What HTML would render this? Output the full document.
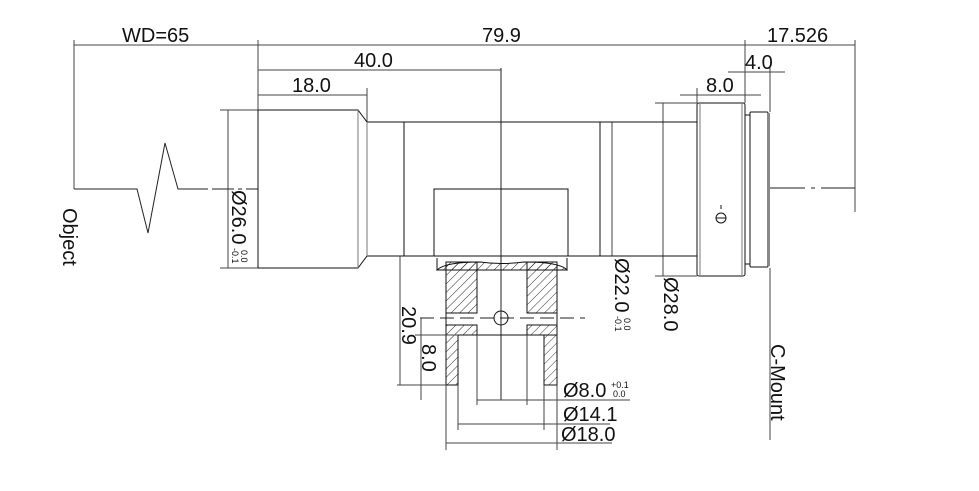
<!DOCTYPE html>
<html><head><style>html,body{margin:0;padding:0;background:#fff}svg{display:block}</style></head><body>
<svg width="979" height="491" viewBox="0 0 979 491" xmlns="http://www.w3.org/2000/svg" font-family="Liberation Sans, DejaVu Sans, sans-serif" fill="none" stroke="#000" stroke-width="1">
<defs>
<pattern id="h" width="6" height="6" patternUnits="userSpaceOnUse" patternTransform="rotate(45)"><line x1="0" y1="0" x2="0" y2="6" stroke="#000" stroke-width="0.8"/></pattern>
</defs>
<g stroke="#444">
<line x1="74" y1="45" x2="855" y2="45"/>
<line x1="74" y1="40" x2="74" y2="189"/>
<line x1="258" y1="40" x2="258" y2="110"/>
<line x1="745" y1="40" x2="745" y2="103"/>
<line x1="855" y1="40" x2="855" y2="212"/>
<line x1="258" y1="70" x2="501" y2="70"/>
<line x1="258" y1="95" x2="367" y2="95"/>
<line x1="367" y1="88" x2="367" y2="122"/>
<line x1="728" y1="72" x2="785" y2="72"/>
<line x1="770" y1="68" x2="770" y2="112"/>
<line x1="680" y1="95" x2="761" y2="95"/>
<line x1="697" y1="88" x2="697" y2="103"/>
<line x1="220" y1="110" x2="258" y2="110"/><line x1="220" y1="268" x2="258" y2="268"/>
<line x1="228" y1="110" x2="228" y2="268"/>
<line x1="604" y1="122" x2="620" y2="122"/><line x1="604" y1="256" x2="620" y2="256"/>
<line x1="612" y1="122" x2="612" y2="256"/>
<line x1="655" y1="103" x2="697" y2="103"/><line x1="655" y1="276" x2="697" y2="276"/>
<line x1="663" y1="103" x2="663" y2="276"/>
</g>
<polyline points="74,189 137,189 148,233 165,143 178,189 208,189" stroke="#222"/>
<line x1="212" y1="189" x2="258" y2="189" stroke="#222" stroke-dasharray="22,4,4,4"/>
<line x1="770" y1="188" x2="855" y2="188" stroke="#222" stroke-dasharray="35,6,4,6"/>
<line x1="501" y1="68" x2="501" y2="400" stroke="#222"/>
<line x1="420" y1="318" x2="585" y2="318" stroke="#222" stroke-dasharray="14,6"/>
<g stroke="#111">
<polyline points="258,110 358,110 367,122 697,122"/>
<polyline points="258,268 358,268 367,256 697,256"/>
<line x1="258" y1="110" x2="258" y2="268"/>
<line x1="358" y1="110" x2="358" y2="268" stroke="#777"/>
<line x1="367" y1="122" x2="367" y2="256" stroke="#777"/>
<line x1="404" y1="122" x2="404" y2="256"/>
<line x1="600" y1="122" x2="600" y2="256"/>
<rect x="434" y="189" width="134" height="67"/>
<rect x="697" y="103" width="48" height="173" rx="2"/>
<line x1="700" y1="104" x2="700" y2="275" stroke="#777"/>
<line x1="742" y1="104" x2="742" y2="275" stroke="#777"/>
<rect x="745" y="115" width="5" height="149"/>
<rect x="750" y="112" width="18" height="155" rx="1"/>
<line x1="769" y1="113" x2="769" y2="266" stroke="#888" stroke-width="2"/>
<circle cx="721" cy="218" r="5"/><line x1="716" y1="218" x2="726" y2="218"/><line x1="721" y1="205" x2="721" y2="209"/>
<path d="M437,270 Q445,262 480,262 Q501,265 524,262 Q560,262 567,270 Z" fill="url(#h)"/>
<line x1="437" y1="258" x2="437" y2="270"/><line x1="567" y1="258" x2="567" y2="270"/>
<rect x="446" y="262" width="31" height="51" fill="url(#h)"/>
<rect x="527" y="262" width="30" height="51" fill="url(#h)"/>
<rect x="446" y="325" width="31" height="10" fill="url(#h)"/>
<rect x="527" y="325" width="30" height="10" fill="url(#h)"/>
<rect x="446" y="335" width="12" height="50" fill="url(#h)"/>
<rect x="544" y="335" width="13" height="50" fill="url(#h)"/>
<line x1="458" y1="335" x2="544" y2="335"/>
<line x1="446" y1="313" x2="446" y2="325"/><line x1="557" y1="313" x2="557" y2="325"/>
<circle cx="501" cy="318" r="7"/>
</g>
<g stroke="#444">
<line x1="397" y1="385" x2="446" y2="385"/>
<line x1="400" y1="256" x2="400" y2="385"/>
<line x1="415" y1="335" x2="458" y2="335"/>
<line x1="421" y1="318" x2="421" y2="400"/>
<line x1="477" y1="335" x2="477" y2="405"/><line x1="527" y1="335" x2="527" y2="405"/>
<line x1="458" y1="385" x2="458" y2="430"/><line x1="544" y1="385" x2="544" y2="430"/>
<line x1="446" y1="385" x2="446" y2="450"/><line x1="557" y1="385" x2="557" y2="450"/>
<line x1="477" y1="400" x2="630" y2="400"/>
<line x1="458" y1="424" x2="610" y2="424"/>
<line x1="446" y1="443" x2="612" y2="443"/>
<line x1="770" y1="268" x2="770" y2="440"/>
</g>
<g fill="#111" stroke="none" font-size="20">
<text x="122" y="42">WD=65</text>
<text x="482" y="42">79.9</text>
<text x="767" y="42">17.526</text>
<text x="354" y="67">40.0</text>
<text x="292" y="92">18.0</text>
<text x="745" y="69">4.0</text>
<text x="706" y="92">8.0</text>
<text x="563" y="397">Ø8.0</text><text x="611" y="388" font-size="9">+0.1</text><text x="613" y="397" font-size="9">0.0</text>
<text x="563" y="421">Ø14.1</text>
<text x="561" y="441">Ø18.0</text>
<text transform="translate(63,208) rotate(90)">Object</text>
<text transform="translate(232,190) rotate(90)">Ø26.0</text>
<text transform="translate(232,248) rotate(90)" font-size="9">-0.1</text><text transform="translate(241,250) rotate(90)" font-size="9">0.0</text>
<text transform="translate(615,258) rotate(90)">Ø22.0</text>
<text transform="translate(615,316) rotate(90)" font-size="9">-0.1</text><text transform="translate(624,318) rotate(90)" font-size="9">0.0</text>
<text transform="translate(664,277) rotate(90)">Ø28.0</text>
<text transform="translate(402,306) rotate(90)">20.9</text>
<text transform="translate(422,344) rotate(90)">8.0</text>
<text transform="translate(771,344) rotate(90)">C-Mount</text>
</g>
</svg>
</body></html>
